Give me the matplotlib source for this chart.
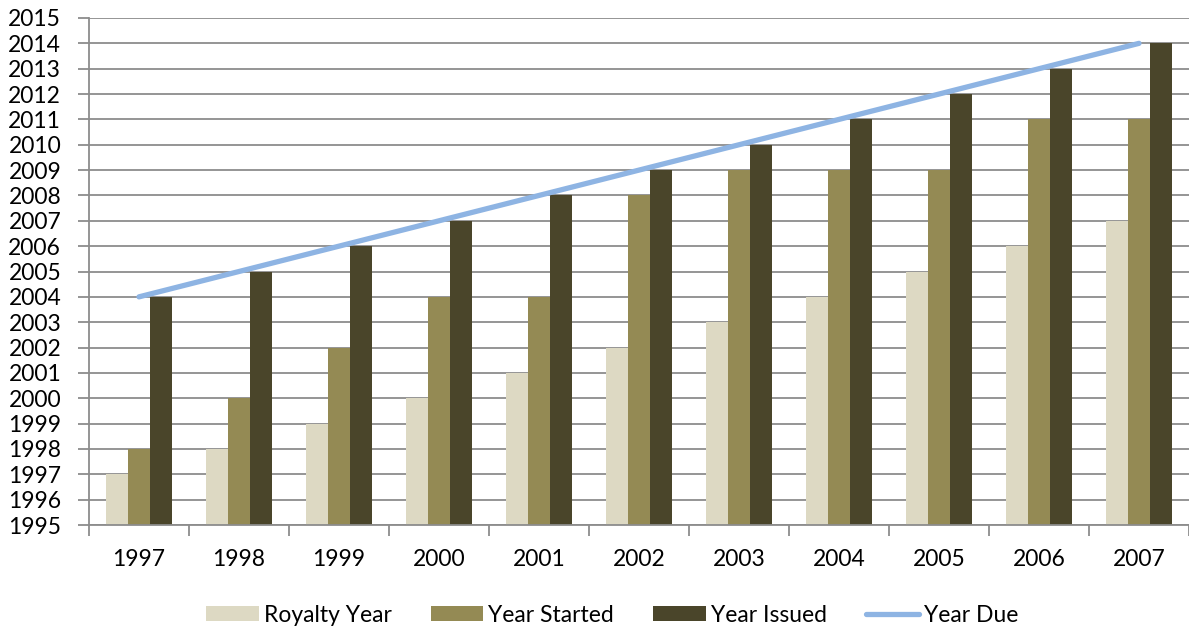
import matplotlib
matplotlib.use("Agg")
import matplotlib.pyplot as plt
import numpy as np

categories = ["1997", "1998", "1999", "2000", "2001", "2002", "2003", "2004", "2005", "2006", "2007"]
royalty_year = [1997, 1998, 1999, 2000, 2001, 2002, 2003, 2004, 2005, 2006, 2007]
year_started = [1998, 2000, 2002, 2004, 2004, 2008, 2009, 2009, 2009, 2011, 2011]
year_issued = [2004, 2005, 2006, 2007, 2008, 2009, 2010, 2011, 2012, 2013, 2014]
year_due = [2004, 2005, 2006, 2007, 2008, 2009, 2010, 2011, 2012, 2013, 2014]
y_ticks = list(range(1995, 2016))

plt.rcParams['font.family'] = ['Lato', 'DejaVu Sans']
FS = 16.5

fig = plt.figure(figsize=(11.89, 6.30), dpi=100)
ax = fig.add_axes([89/1189, 105/630, 1 - 89/1189, (525-18)/630])

x = np.arange(len(categories))
w = 0.22
base = 1995
ax.bar(x - w, np.array(royalty_year) - base, w, bottom=base, color="#DDD9C3", label="Royalty Year", zorder=2)
ax.bar(x, np.array(year_started) - base, w, bottom=base, color="#948A54", label="Year Started", zorder=2)
ax.bar(x + w, np.array(year_issued) - base, w, bottom=base, color="#4A452A", label="Year Issued", zorder=2)
ax.plot(x, year_due, color="#8EB4E3", lw=3.8, solid_capstyle="round", label="Year Due", zorder=3)

ax.set_xlim(-0.5, len(categories) - 0.5)
ax.set_ylim(1995, 2015)
ax.set_yticks(y_ticks)
ax.set_yticklabels([str(t) for t in y_ticks])
ax.yaxis.grid(True, color="#8C8C8C", lw=1.3, zorder=0)
ax.set_axisbelow(True)

ax.set_xticks(x)
ax.set_xticklabels(categories)
ax.set_xticks(np.arange(-0.5, len(categories)), minor=True)
ax.tick_params(axis="x", which="major", length=0, pad=17, labelsize=FS)
ax.tick_params(axis="x", which="minor", length=8, width=1.3, color="#8C8C8C", direction="out")
ax.tick_params(axis="y", length=8, width=1.3, color="#8C8C8C", direction="out", pad=12, labelsize=FS)

for s in ["top", "right"]:
    ax.spines[s].set_visible(False)
for s in ["left", "bottom"]:
    ax.spines[s].set_color("#8C8C8C")
    ax.spines[s].set_linewidth(1.3)

handles, labels = ax.get_legend_handles_labels()
order = [1, 2, 3, 0]
fig.legend([handles[i] for i in order], [labels[i] for i in order],
           loc="center", bbox_to_anchor=(612/1189, 1 - 615/630), ncol=4, frameon=False,
           fontsize=FS, handlelength=2.3, handleheight=0.65, handletextpad=0.22, columnspacing=1.7)

fig.savefig("out.png", dpi=100)
